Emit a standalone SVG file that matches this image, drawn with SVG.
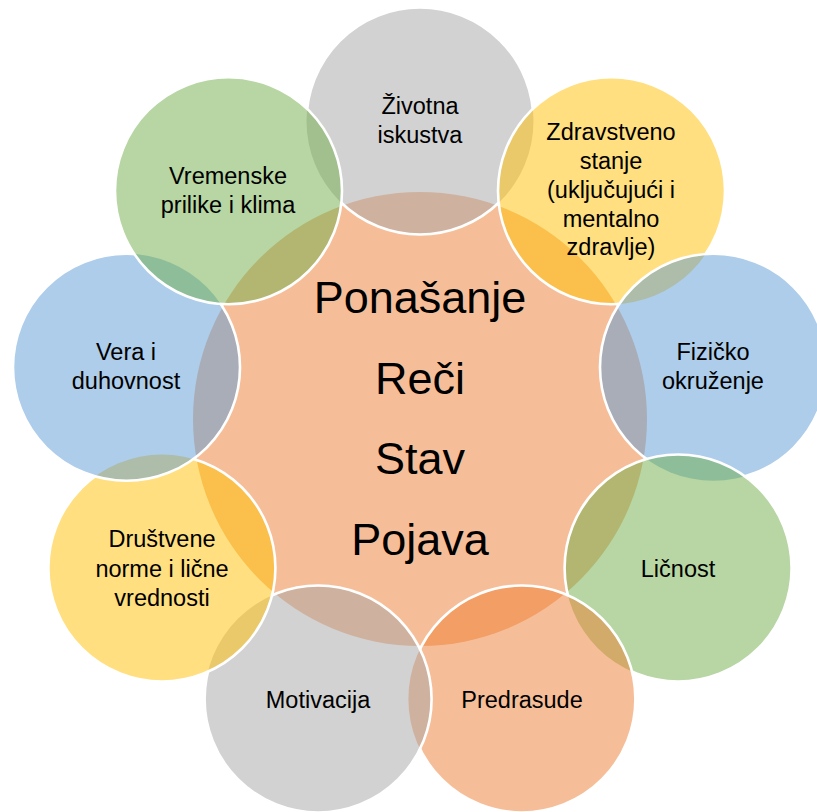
<svg xmlns="http://www.w3.org/2000/svg" width="817" height="812" viewBox="0 0 817 812">
<style>
.f{fill-opacity:0.5;stroke:none}
.s{fill:none;stroke:#fff;stroke-width:2.6}
.gray{fill:#a5a5a5}.yel{fill:#ffc000}.blue{fill:#5b9bd5}.grn{fill:#70ad47}.org{fill:#ed7d31}
.t{font-family:"Liberation Sans",Arial,sans-serif;font-size:23.5px;fill:#000;text-anchor:middle}
.c{font-family:"Liberation Sans",Arial,sans-serif;font-size:45px;fill:#000;text-anchor:middle}
</style>
<defs>
<mask id="m0" maskUnits="userSpaceOnUse" x="0" y="0" width="817" height="812"><rect width="817" height="812" fill="#fff"/><circle cx="611.5" cy="190.7" r="113.5"/><circle cx="228.5" cy="190.7" r="113.5"/></mask>
<mask id="m1" maskUnits="userSpaceOnUse" x="0" y="0" width="817" height="812"><rect width="817" height="812" fill="#fff"/><circle cx="713.5" cy="367.3" r="113.5"/></mask>
<mask id="m2" maskUnits="userSpaceOnUse" x="0" y="0" width="817" height="812"><rect width="817" height="812" fill="#fff"/><circle cx="678.1" cy="568" r="113.5"/></mask>
<mask id="m3" maskUnits="userSpaceOnUse" x="0" y="0" width="817" height="812"><rect width="817" height="812" fill="#fff"/><circle cx="521.9" cy="699" r="113.5"/></mask>
<mask id="m4" maskUnits="userSpaceOnUse" x="0" y="0" width="817" height="812"><rect width="817" height="812" fill="#fff"/><circle cx="318.1" cy="699" r="113.5"/></mask>
<mask id="m5" maskUnits="userSpaceOnUse" x="0" y="0" width="817" height="812"><rect width="817" height="812" fill="#fff"/><circle cx="161.9" cy="568" r="113.5"/></mask>
<mask id="m6" maskUnits="userSpaceOnUse" x="0" y="0" width="817" height="812"><rect width="817" height="812" fill="#fff"/><circle cx="126.5" cy="367.3" r="113.5"/></mask>
<mask id="m7" maskUnits="userSpaceOnUse" x="0" y="0" width="817" height="812"><rect width="817" height="812" fill="#fff"/><circle cx="228.5" cy="190.7" r="113.5"/></mask>
</defs>
<rect width="817" height="812" fill="#fff"/>
<g id="center">
<circle class="f org" cx="420" cy="419" r="227"/>
<text class="c" x="420" y="313">Ponašanje</text>
<text class="c" x="420" y="394">Reči</text>
<text class="c" x="420" y="474">Stav</text>
<text class="c" x="420" y="555">Pojava</text>
</g>
<g id="zivotna">
<circle class="f gray" cx="420" cy="121" r="113.5"/>
<circle class="s" cx="420" cy="121" r="113.5" mask="url(#m0)"/>
<text class="t" x="420" y="114">Životna</text>
<text class="t" x="420" y="143">iskustva</text>
</g>
<g id="zdravstveno">
<circle class="f yel" cx="611.5" cy="190.7" r="113.5"/>
<circle class="s" cx="611.5" cy="190.7" r="113.5" mask="url(#m1)"/>
<text class="t" x="611" y="140">Zdravstveno</text>
<text class="t" x="611" y="169">stanje</text>
<text class="t" x="611" y="198">(uključujući i</text>
<text class="t" x="611" y="227">mentalno</text>
<text class="t" x="611" y="255">zdravlje)</text>
</g>
<g id="fizicko">
<circle class="f blue" cx="713.5" cy="367.3" r="113.5"/>
<circle class="s" cx="713.5" cy="367.3" r="113.5" mask="url(#m2)"/>
<text class="t" x="713" y="360">Fizičko</text>
<text class="t" x="713" y="389">okruženje</text>
</g>
<g id="licnost">
<circle class="f grn" cx="678.1" cy="568" r="113.5"/>
<circle class="s" cx="678.1" cy="568" r="113.5" mask="url(#m3)"/>
<text class="t" x="678" y="577">Ličnost</text>
</g>
<g id="predrasude">
<circle class="f org" cx="521.9" cy="699" r="113.5"/>
<circle class="s" cx="521.9" cy="699" r="113.5" mask="url(#m4)"/>
<text class="t" x="522" y="708">Predrasude</text>
</g>
<g id="motivacija">
<circle class="f gray" cx="318.1" cy="699" r="113.5"/>
<circle class="s" cx="318.1" cy="699" r="113.5" mask="url(#m5)"/>
<text class="t" x="318" y="708">Motivacija</text>
</g>
<g id="drustvene">
<circle class="f yel" cx="161.9" cy="568" r="113.5"/>
<circle class="s" cx="161.9" cy="568" r="113.5" mask="url(#m6)"/>
<text class="t" x="162" y="547">Društvene</text>
<text class="t" x="162" y="577">norme i lične</text>
<text class="t" x="162" y="606">vrednosti</text>
</g>
<g id="vera">
<circle class="f blue" cx="126.5" cy="367.3" r="113.5"/>
<circle class="s" cx="126.5" cy="367.3" r="113.5" mask="url(#m7)"/>
<text class="t" x="126" y="360">Vera i</text>
<text class="t" x="126" y="389">duhovnost</text>
</g>
<g id="vremenske">
<circle class="f grn" cx="228.5" cy="190.7" r="113.5"/>
<circle class="s" cx="228.5" cy="190.7" r="113.5"/>
<text class="t" x="228" y="184">Vremenske</text>
<text class="t" x="228" y="213">prilike i klima</text>
</g>
<g id="connectors"/>
</svg>
